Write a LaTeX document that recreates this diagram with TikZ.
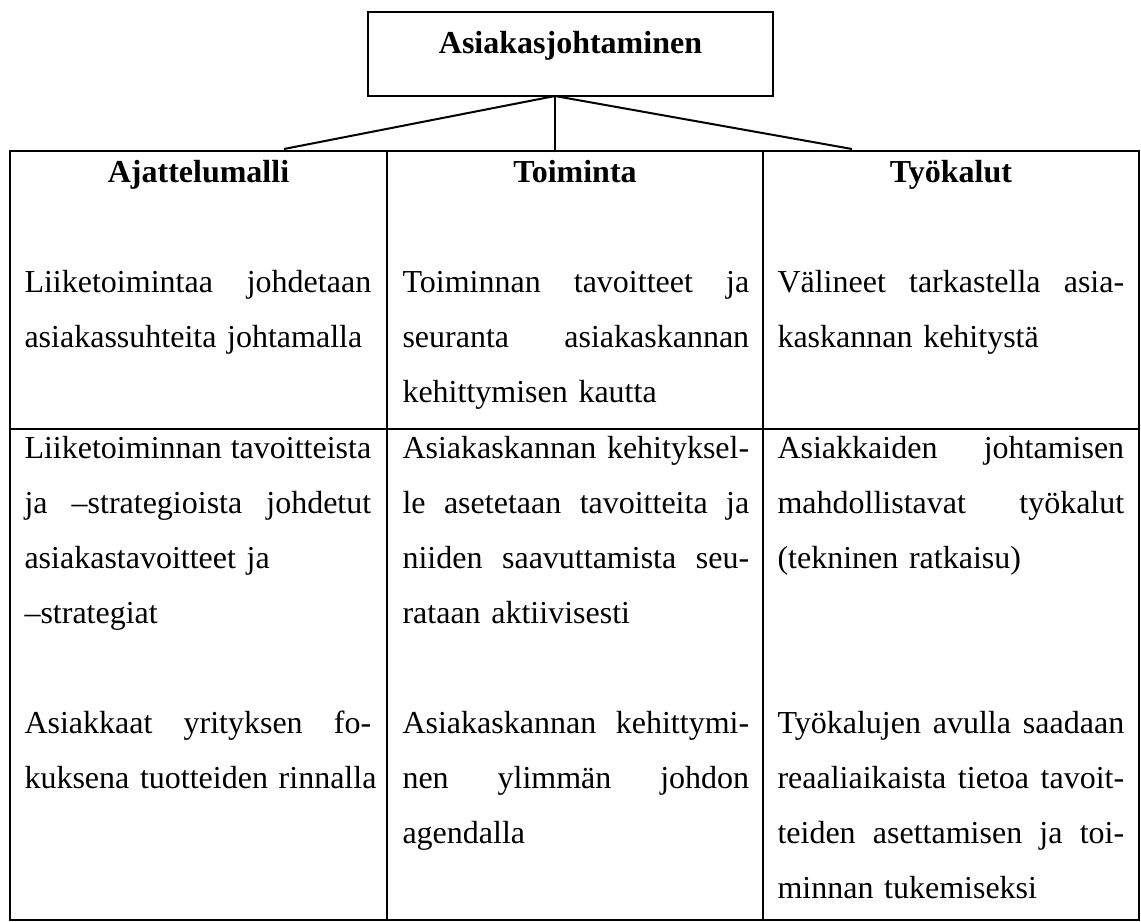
\documentclass[tikz,border=0pt]{standalone}
\usepackage{fontspec}
\setmainfont{Liberation Serif}
\usetikzlibrary{positioning}

% one justified line of a cell
\newcommand{\jl}[1]{{\spaceskip=0pt\xspaceskip=0pt\makebox[130pt][s]{#1}}}

\begin{document}
\begin{tikzpicture}[
  x=0.375pt, y=-0.375pt,
  topbox/.style={draw, line width=0.75pt, inner sep=0pt, minimum width=151.9pt, text height=15.4pt, text depth=16.1pt, font=\fontsize{12pt}{20.7pt}\selectfont\bfseries},
  colhead/.style={anchor=base, inner sep=0pt, font=\fontsize{12pt}{20.7pt}\selectfont\bfseries},
  celltext/.style={anchor=base west, text width=133pt, align=left, inner sep=0pt, font=\fontsize{12pt}{20.7pt}\selectfont},
  frame/.style={line width=0.75pt},
  link/.style={line width=0.75pt}
]
  \useasboundingbox (0,0) rectangle (1141,922);

  % top box and its links
  \node[topbox, anchor=base] (top) at (570.5,53) {Asiakasjohtaminen};
  \coordinate (apex) at (555,96);
  \coordinate (leftend) at (284,149);
  \coordinate (midend) at (555,151);
  \coordinate (rightend) at (852,149);
  \draw[link] (apex) -- (leftend);
  \draw[link] (apex) -- (rightend);
  \draw[link, line width=0.5pt] (apex) -- (midend);

  % table
  \draw[frame] (10,151) rectangle (1139,920);
  \foreach \xc in {387,763}
    \draw[frame] (\xc,151) -- (\xc,920);
  \draw[frame] (10,429) -- (1139,429);

  \node[colhead] (headA) at (198.5,182) {Ajattelumalli};
  \node[colhead] (headB) at (575,182) {Toiminta};
  \node[colhead] (headC) at (951,182) {Työkalut};

  \node[celltext] (mindA) at (24,292) {\jl{Liiketoimintaa johdetaan}\\asiakassuhteita johtamalla};
  \node[celltext] (mindB) at (402,292) {\jl{Toiminnan tavoitteet ja}\\\jl{seuranta asiakaskannan}\\kehittymisen kautta};
  \node[celltext] (mindC) at (777,292) {\jl{Välineet tarkastella asia-}\\kaskannan kehitystä};

  \node[celltext] (goalA) at (24,458) {\jl{Liiketoiminnan tavoitteista}\\\jl{ja –strategioista johdetut}\\asiakastavoitteet ja\\–strategiat};
  \node[celltext] (goalB) at (402,458) {\jl{Asiakaskannan kehityksel-}\\\jl{le asetetaan tavoitteita ja}\\\jl{niiden saavuttamista seu-}\\rataan aktiivisesti};
  \node[celltext] (goalC) at (777,458) {\jl{Asiakkaiden johtamisen}\\\jl{mahdollistavat työkalut}\\(tekninen ratkaisu)};

  \node[celltext] (focusA) at (24,733) {\jl{Asiakkaat yrityksen fo-}\\kuksena tuotteiden rinnalla};
  \node[celltext] (focusB) at (402,733) {\jl{Asiakaskannan kehittymi-}\\\jl{nen ylimmän johdon}\\agendalla};
  \node[celltext] (focusC) at (777,733) {\jl{Työkalujen avulla saadaan}\\\jl{reaaliaikaista tietoa tavoit-}\\\jl{teiden asettamisen ja toi-}\\minnan tukemiseksi};
\end{tikzpicture}
\end{document}
